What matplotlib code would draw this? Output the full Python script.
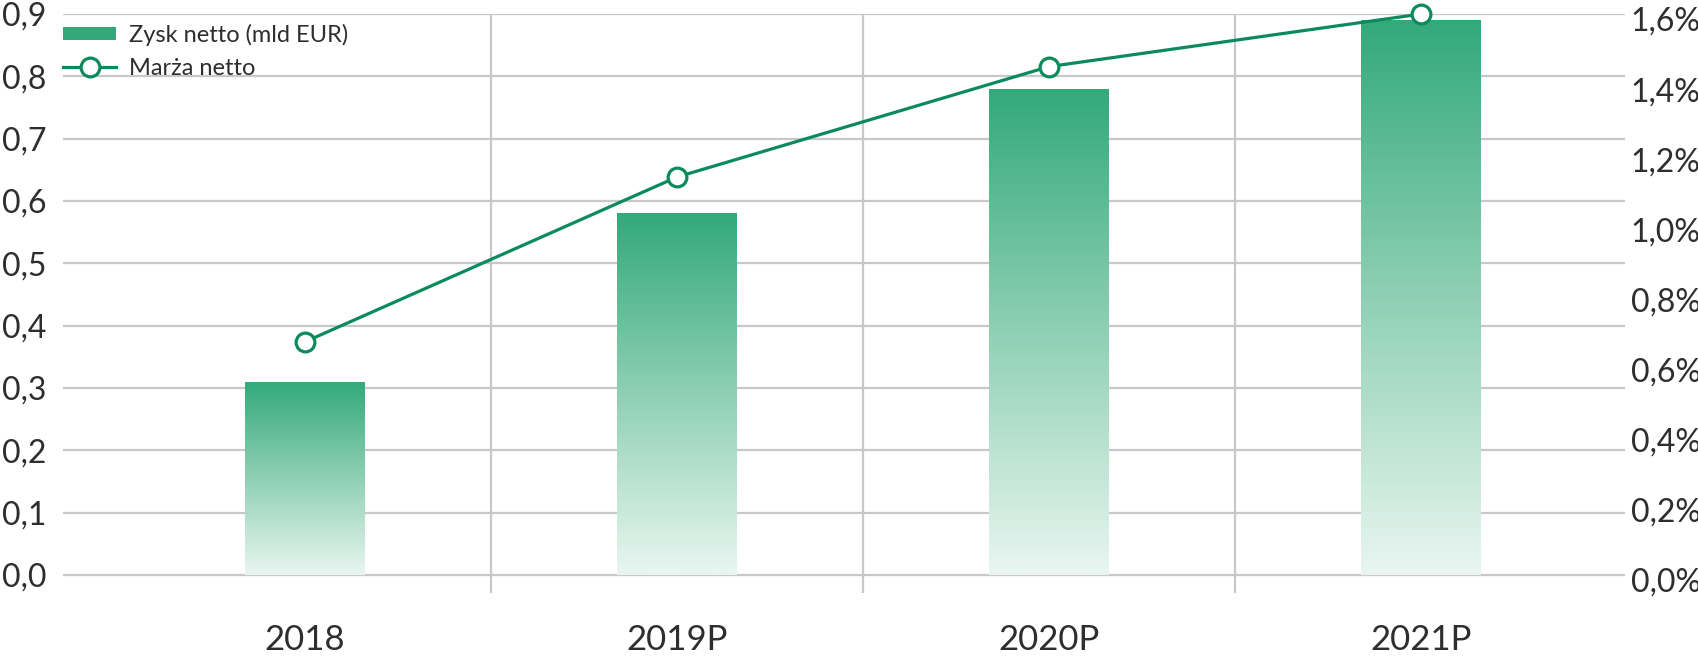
import numpy as np
import matplotlib
matplotlib.use("Agg")
import matplotlib.pyplot as plt
from matplotlib.colors import LinearSegmentedColormap
from matplotlib.patches import Patch
from matplotlib.lines import Line2D
from matplotlib.transforms import ScaledTranslation

plt.rcParams['font.family'] = ['Lato', 'DejaVu Sans']

categories = ["2018", "2019P", "2020P", "2021P"]
profit = [0.31, 0.58, 0.78, 0.89]          # Zysk netto (mld EUR)
margin = [0.665, 1.135, 1.45, 1.60]        # Marża netto (%)
left_ticks = [0.0, 0.1, 0.2, 0.3, 0.4, 0.5, 0.6, 0.7, 0.8, 0.9]
left_labels = ["0,0", "0,1", "0,2", "0,3", "0,4", "0,5", "0,6", "0,7", "0,8", "0,9"]
right_ticks = [0.0, 0.2, 0.4, 0.6, 0.8, 1.0, 1.2, 1.4, 1.6]
right_labels = ["0,0%", "0,2%", "0,4%", "0,6%", "0,8%", "1,0%", "1,2%", "1,4%", "1,6%"]

BAR_TOP = "#33a97a"
BAR_BOT = "#e9f6f1"
LINE_C = "#0b8a5c"
GRID_C = "#c8c8c8"
TEXT_C = "#2e2e2e"
FW = "normal"

W, H = 1698, 657
fig = plt.figure(figsize=(W / 100, H / 100), dpi=100)
ax = fig.add_axes([63 / W, (H - 593) / H, (1625 - 63) / W, (593 - 14) / H])
ax2 = ax.twinx()

ymin = -0.029
x = np.arange(len(categories))

# gridlines
for t in left_ticks:
    ax.axhline(t, color=GRID_C, lw=1.6, zorder=0)
for s in [0.5, 1.5, 2.5]:
    ax.axvline(s, color=GRID_C, lw=1.6, zorder=0)

# gradient bars
cmap = LinearSegmentedColormap.from_list("g", [BAR_BOT, "#8fd0b5", BAR_TOP])
bw = 0.322
bars = ax.bar(x, profit, width=bw, color="none", edgecolor="none", zorder=2)
grad = np.linspace(0, 1, 256).reshape(-1, 1)
for b in bars:
    x0 = b.get_x()
    im = ax.imshow(grad, cmap=cmap, aspect="auto", origin="lower",
                   extent=[x0, x0 + b.get_width(), 0, b.get_height()], zorder=2)
    im.set_clip_path(b)
ax.set_xlim(-0.6505, 3.548)
ax.set_ylim(ymin, 0.9)
ax2.set_ylim(ymin / 0.9 * 1.6, 1.6)

# line
ax2.plot(x, margin, color=LINE_C, lw=2.3, marker="o", ms=13.5,
         mfc="white", mec=LINE_C, mew=2.3, zorder=5, clip_on=False)

for a in (ax, ax2):
    for sp in a.spines.values():
        sp.set_visible(False)
    a.tick_params(length=0)

ax.set_yticks(left_ticks)
ax.set_yticklabels(left_labels, fontsize=23, color=TEXT_C, fontweight=FW)
ax.tick_params(axis="y", pad=12)
ax2.set_yticks(right_ticks)
ax2.set_yticklabels(right_labels, fontsize=23, color=TEXT_C, fontweight=FW)
ax2.tick_params(axis="y", pad=4)
off = ScaledTranslation(0, -5 / 100, fig.dpi_scale_trans)
for lab in ax2.get_yticklabels():
    lab.set_transform(lab.get_transform() + off)

ax.set_xticks(x)
ax.set_xticklabels(categories, fontsize=25, color=TEXT_C, fontweight=FW)
ax.tick_params(axis="x", pad=22)
ax.set_zorder(ax2.get_zorder() - 1)
ax2.patch.set_visible(False)

handles = [Patch(facecolor=BAR_TOP, edgecolor="none"),
           Line2D([], [], color=LINE_C, lw=2.3, marker="o", ms=13.5,
                  mfc="white", mec=LINE_C, mew=2.3)]
leg = ax2.legend(handles, ["Zysk netto (mld EUR)", "Marża netto"],
                 loc="upper left", bbox_to_anchor=(0.0, (593 - 24) / (593 - 14)),
                 frameon=False, fontsize=17, handlelength=2.25,
                 handleheight=0.5, handletextpad=0.55, labelspacing=0.5,
                 borderaxespad=0.0, borderpad=0.0)
for t in leg.get_texts():
    t.set_color(TEXT_C)
    t.set_fontweight(FW)

fig.savefig("out.png", dpi=100)
